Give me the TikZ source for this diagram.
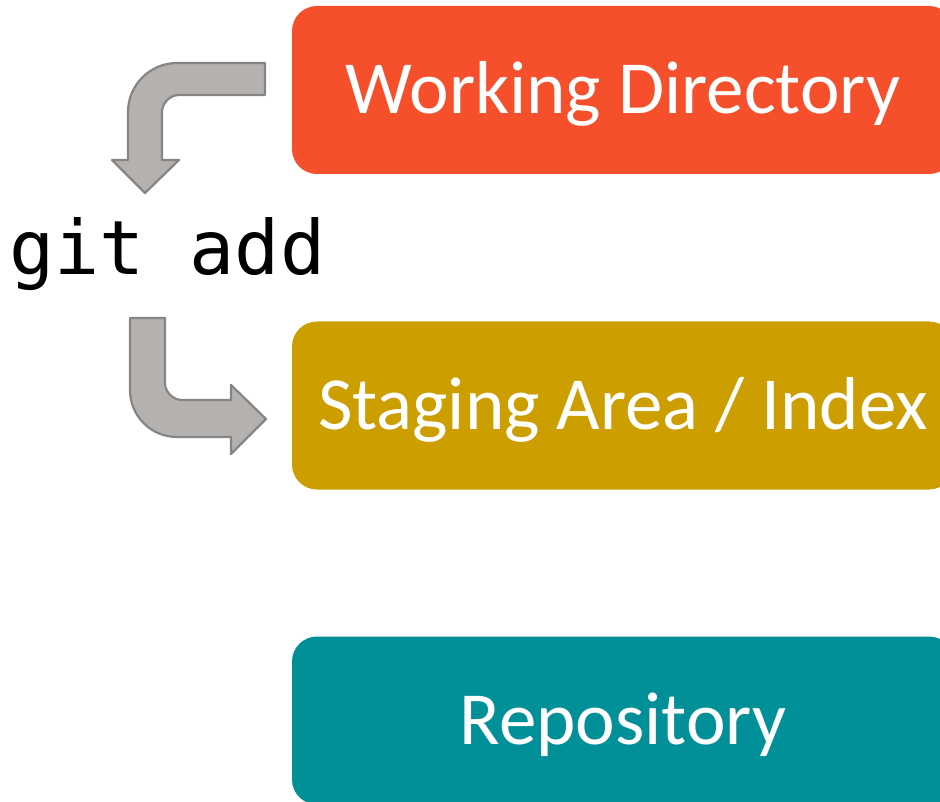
\documentclass[tikz,border=0pt]{standalone}
\usepackage{fontspec}
\setmainfont{Carlito}
\newfontfamily\monofont{DejaVu Sans Mono}
\definecolor{wdcol}{HTML}{F5502B}
\definecolor{stcol}{HTML}{CD9E00}
\definecolor{rpcol}{HTML}{019098}
\definecolor{arrfill}{HTML}{B5B1AE}
\definecolor{arrline}{HTML}{858585}
\tikzset{
  stagebox/.style={rounded corners=25pt, minimum width=662pt, minimum height=168pt, inner sep=0pt,
    text=white, font=\fontsize{75}{80}\selectfont, text height=48pt, text depth=0pt},
  bentarrow/.style={fill=arrfill, draw=arrline, line width=2.2pt, line join=round}
}
\begin{document}
\begin{tikzpicture}[x=1pt,y=-1pt]
\useasboundingbox (0,0) rectangle (940,802);
\clip (0,0) rectangle (940,802);
\node[stagebox, fill=wdcol] (wd) at (623,90) {Working Directory};
\node[stagebox, fill=stcol] (st) at (623,405.5) {Staging Area / Index};
\node[stagebox, fill=rpcol] (rp) at (623,720.5) {Repository};
\node[anchor=base west, inner sep=0pt, font=\monofont\fontsize{75}{80}\selectfont] (cmd) at (9,275) {git add};
% top bent arrow
\draw[bentarrow] (265,63) -- (177,63) .. controls (150,63) and (128,85) .. (128,112)
  -- (128,160) -- (112,160) -- (145,193) -- (179,160) -- (162,160) -- (162,112)
  .. controls (162,103) and (170,95) .. (179,95) -- (265,95) -- cycle;
% bottom bent arrow
\draw[bentarrow] (130,318) -- (165,318) -- (165,383) .. controls (165,392) and (173,400) .. (182,400)
  -- (231,400) -- (231,385) -- (266,419) -- (231,454) -- (231,437) -- (177,437)
  .. controls (151,437) and (130,416) .. (130,390) -- cycle;
\end{tikzpicture}
\end{document}
